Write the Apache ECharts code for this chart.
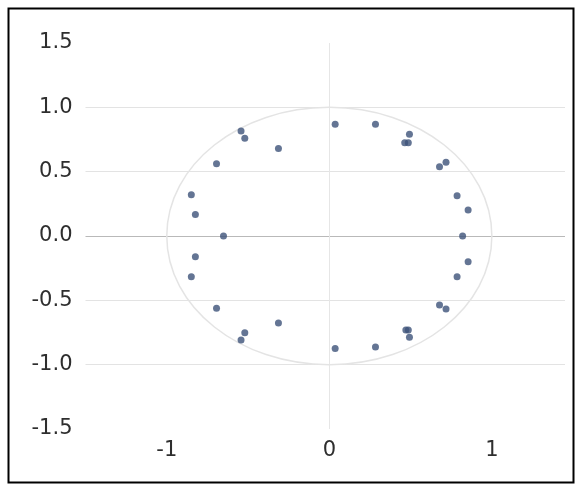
<!DOCTYPE html>
<html>
<head>
<meta charset="utf-8">
<script src="https://cdn.jsdelivr.net/npm/echarts@6/dist/echarts.min.js"></script>
<style>
  html, body { margin: 0; padding: 0; background: #ffffff; }
  #chart { width: 576px; height: 485px; }
</style>
</head>
<body>
<div id="chart"></div>
<script>
// Data
const xValues = [0.036, 0.284, 0.493, 0.464, 0.486, 0.718, 0.678, 0.786, 0.854, 0.820,
                 0.854, 0.786, 0.678, 0.718, 0.471, 0.486, 0.493, 0.284, 0.036,
                 -0.543, -0.520, -0.313, -0.694, -0.849, -0.824, -0.651, -0.824,
                 -0.849, -0.694, -0.520, -0.543, -0.313];
const yValues = [0.868, 0.868, 0.790, 0.725, 0.725, 0.573, 0.539, 0.313, 0.202, 0.000,
                 -0.200, -0.316, -0.536, -0.567, -0.730, -0.730, -0.787, -0.862, -0.875,
                 0.816, 0.759, 0.681, 0.562, 0.321, 0.168, 0.000, -0.161, -0.316,
                 -0.562, -0.751, -0.808, -0.676];
const circleRadius = [1];
const xTickLabels = ['-1', '0', '1'];
const yTickLabels = ['-1.5', '-1.0', '-0.5', '0.0', '0.5', '1.0', '1.5'];

const points = xValues.map((x, i) => [x, yValues[i]]);

const chart = echarts.init(document.getElementById('chart'), null, { renderer: 'canvas' });

const labelFont = { fontFamily: 'DejaVu Sans', fontSize: 21, color: '#2e2e2e' };

const option = {
  animation: false,
  backgroundColor: '#ffffff',
  grid: { left: 85.5, right: 11, top: 43, bottom: 56, containLabel: false },
  xAxis: {
    type: 'value',
    min: -1.5,
    max: 1.45,
    interval: 0.5,
    axisLine: { show: false },
    axisTick: { show: false },
    axisLabel: Object.assign({
      margin: 11,
      formatter: function (v) {
        const s = String(Math.round(v));
        return (Math.abs(v - Math.round(v)) < 1e-6 && xTickLabels.indexOf(s) >= 0) ? s : '';
      }
    }, labelFont),
    splitLine: {
      show: true,
      lineStyle: {
        color: ['rgba(0,0,0,0)', 'rgba(0,0,0,0)', 'rgba(0,0,0,0)', '#e6e6e6',
                'rgba(0,0,0,0)', 'rgba(0,0,0,0)', 'rgba(0,0,0,0)'],
        width: 1
      }
    }
  },
  yAxis: {
    type: 'value',
    min: -1.5,
    max: 1.5,
    interval: 0.5,
    axisLine: { show: false },
    axisTick: { show: false },
    axisLabel: Object.assign({
      margin: 13,
      formatter: function (v) {
        const s = v.toFixed(1);
        return yTickLabels.indexOf(s) >= 0 ? s : '';
      }
    }, labelFont),
    splitLine: {
      show: true,
      lineStyle: {
        color: ['rgba(0,0,0,0)', '#e3e3e3', '#e3e3e3', '#b9b9b9',
                '#e3e3e3', '#e3e3e3', 'rgba(0,0,0,0)'],
        width: 1
      }
    }
  },
  graphic: [{
    type: 'rect',
    shape: { x: 8.5, y: 8.5, width: 565, height: 474 },
    style: { fill: 'none', stroke: '#000000', lineWidth: 2 },
    silent: true,
    z: 100
  }],
  series: [
    {
      type: 'custom',
      silent: true,
      data: [[0, 0, circleRadius[0]]],
      encode: { x: 0, y: 1 },
      z: 1,
      renderItem: function (params, api) {
        const c = api.coord([api.value(0), api.value(1)]);
        const r = api.value(2);
        const s = api.size([r, r]);
        return {
          type: 'ellipse',
          shape: { cx: c[0], cy: c[1], rx: s[0], ry: s[1] },
          style: { fill: 'none', stroke: '#e4e4e4', lineWidth: 1.5 }
        };
      }
    },
    {
      type: 'scatter',
      data: points,
      symbol: 'circle',
      symbolSize: 7,
      z: 3,
      itemStyle: { color: '#3d5279' }
    }
  ]
};

chart.setOption(option);
</script>
</body>
</html>
